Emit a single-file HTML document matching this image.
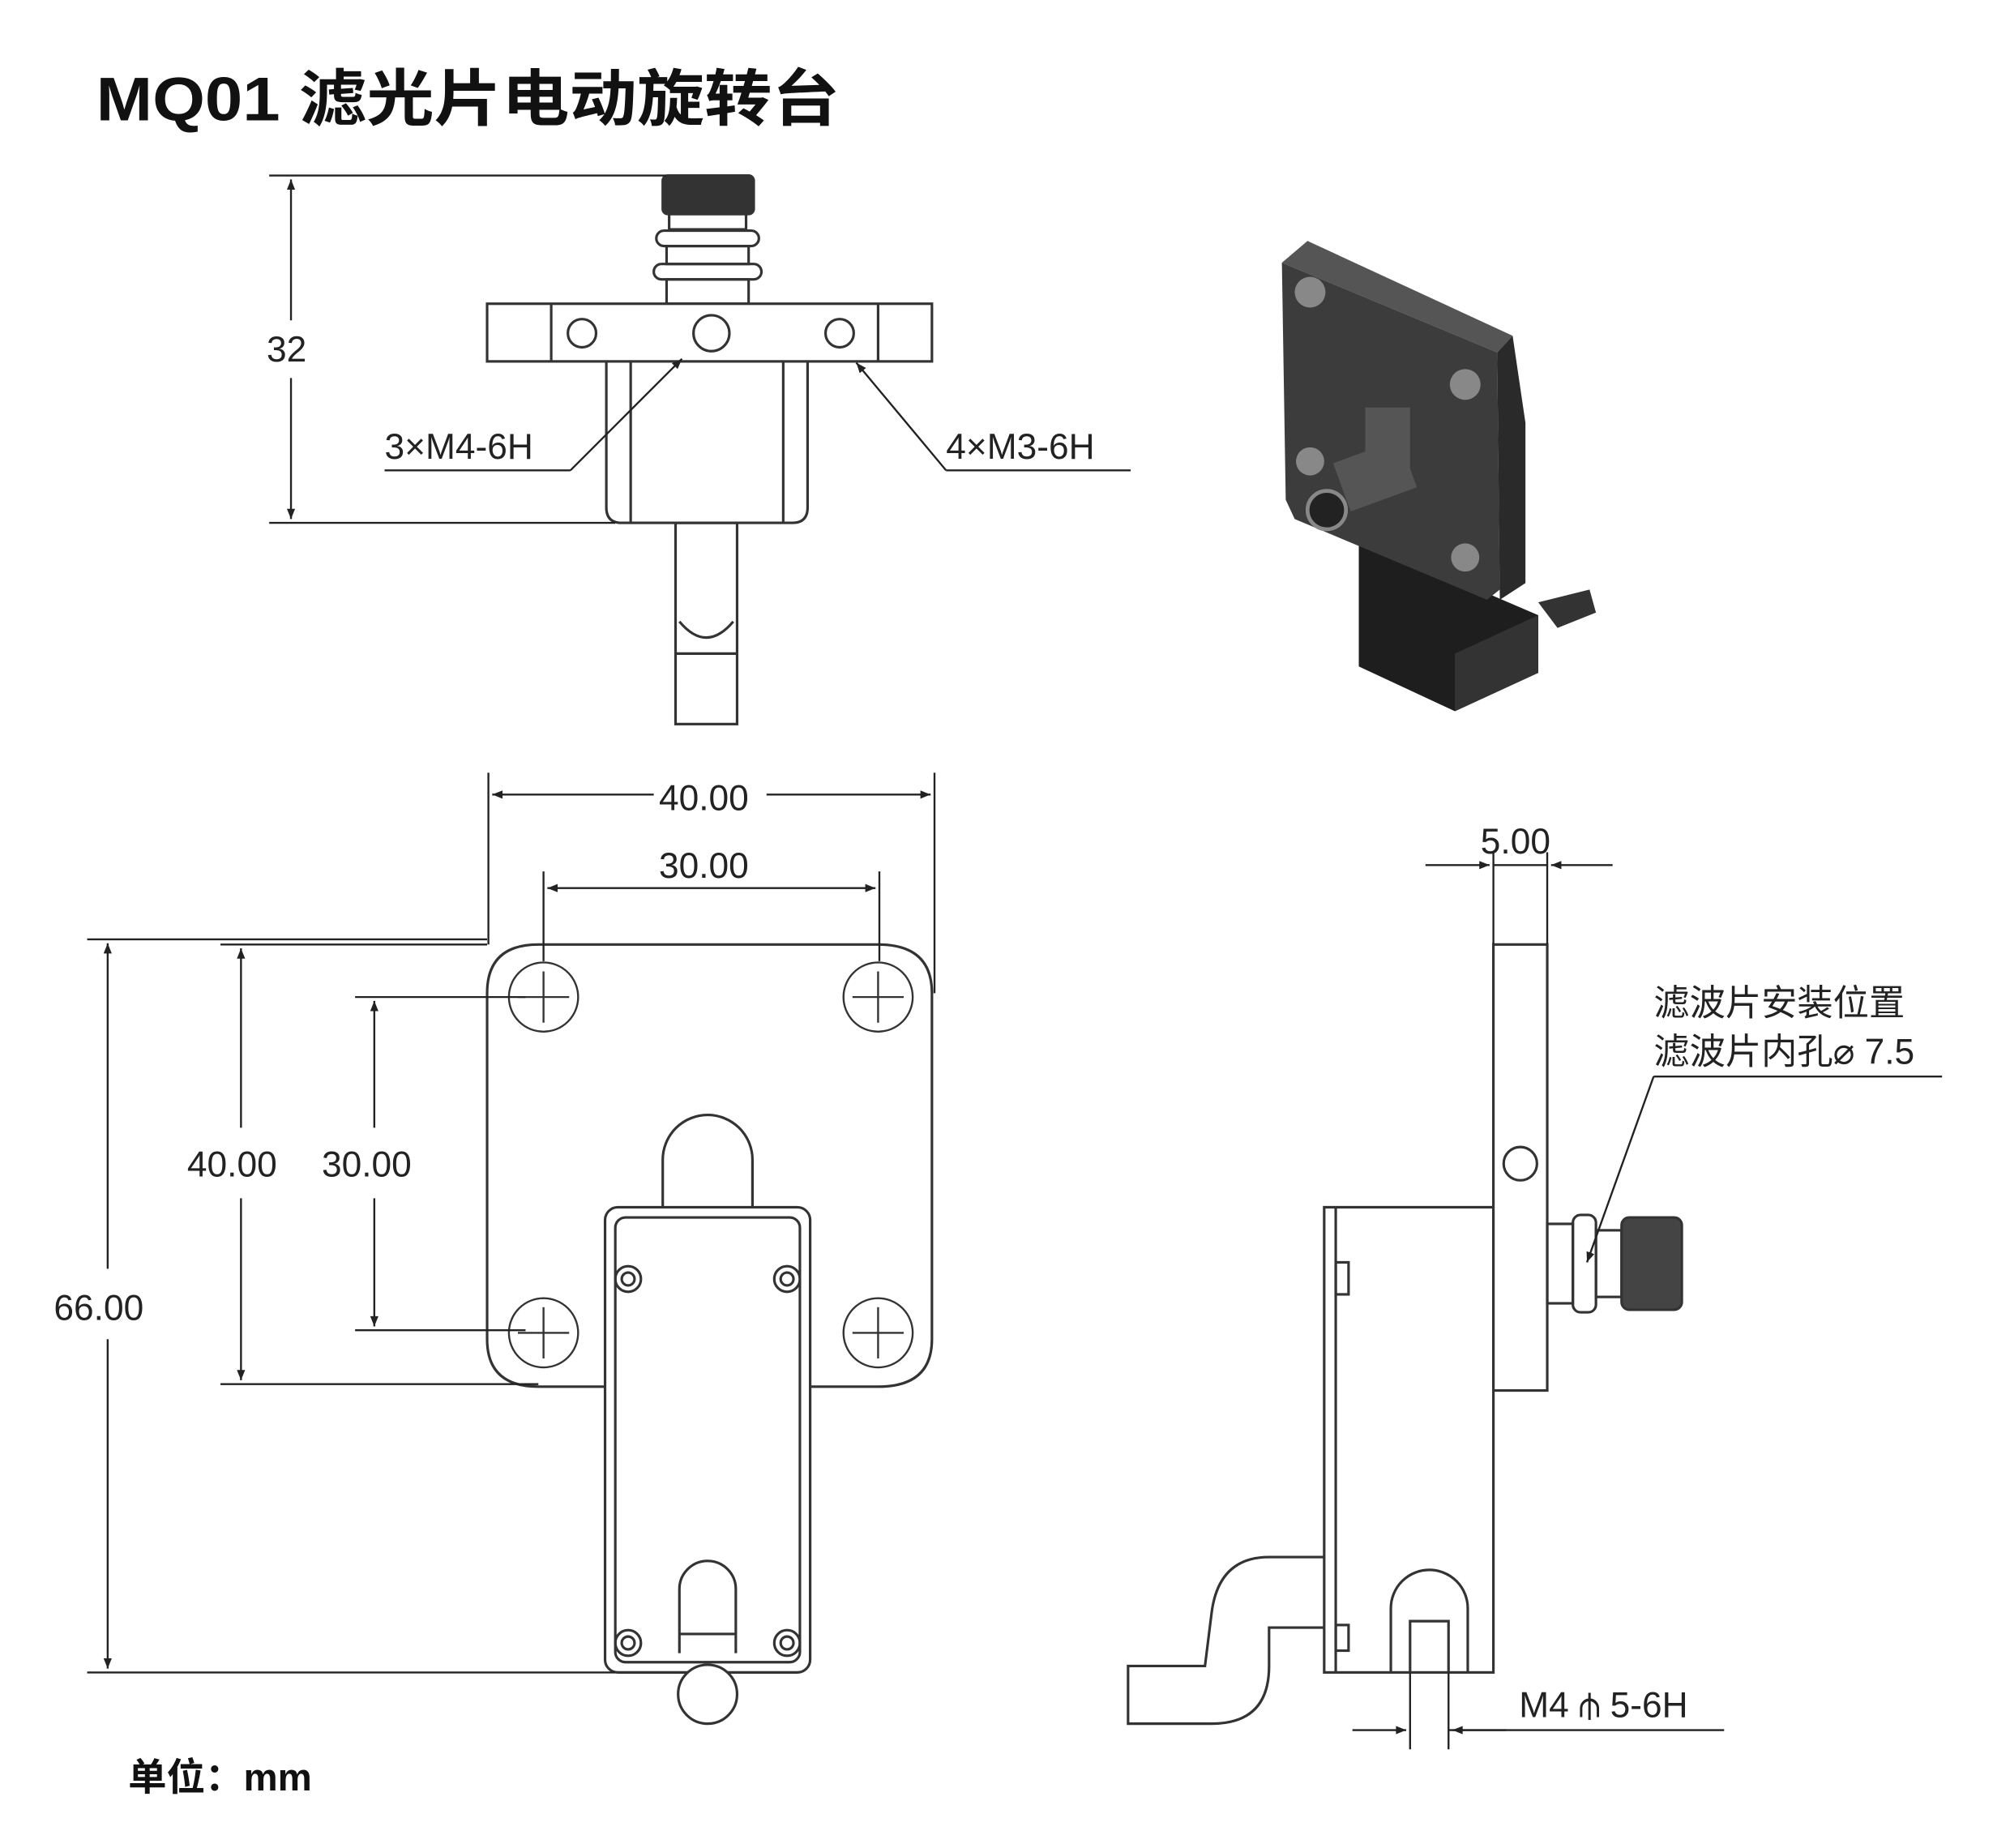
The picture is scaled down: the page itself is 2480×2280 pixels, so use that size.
<!DOCTYPE html>
<html><head><meta charset="utf-8"><style>
html,body{margin:0;padding:0;background:#fff}
svg{display:block}
text{font-family:"Liberation Sans","Noto Sans CJK SC",sans-serif;fill:#222}
</style></head><body>
<svg width="2480" height="2280" viewBox="0 0 1568 1442" preserveAspectRatio="none" xmlns="http://www.w3.org/2000/svg">
<defs>
<marker id="a" viewBox="0 0 10 10" refX="10" refY="5" markerWidth="14" markerHeight="8" orient="auto-start-reverse" markerUnits="userSpaceOnUse"><path d="M0,1 L10,5 L0,9 z" fill="#222"/></marker>
</defs>
<rect width="1568" height="1442" fill="#fff"/>
<text x="75" y="94" font-size="48" font-weight="bold" textLength="580" lengthAdjust="spacingAndGlyphs" style="fill:#111">MQ01 滤光片电动旋转台</text>

<g stroke="#333" stroke-width="2" fill="none">
<rect x="517" y="137" width="71" height="30" rx="4" fill="#333"/>
<rect x="522" y="167" width="60" height="12"/>
<rect x="512" y="180" width="80" height="12" rx="6"/>
<rect x="520" y="192" width="64" height="14"/>
<rect x="510" y="206" width="84" height="12" rx="6"/>
<rect x="520" y="218" width="64" height="19"/>
<rect x="380" y="237" width="347" height="45" fill="#fff"/>
<line x1="430" y1="237" x2="430" y2="282"/><line x1="685" y1="237" x2="685" y2="282"/>
<circle cx="454" cy="260" r="11"/><circle cx="555" cy="260" r="14"/><circle cx="655" cy="260" r="11"/>
<path d="M473,282 V396 Q473,408 485,408 H618 Q630,408 630,396 V282"/>
<line x1="492" y1="282" x2="492" y2="408"/><line x1="611" y1="282" x2="611" y2="408"/>
<rect x="527" y="408" width="48" height="157"/>
<path d="M530,485 Q551,510 572,485"/><line x1="527" y1="510" x2="575" y2="510"/>
</g>
<g stroke="#222" stroke-width="1.5" fill="none">
<line x1="210" y1="137" x2="520" y2="137"/><line x1="210" y1="408" x2="480" y2="408"/>
<line x1="227" y1="140" x2="227" y2="250" marker-start="url(#a)"/>
<line x1="227" y1="295" x2="227" y2="405" marker-end="url(#a)"/>
<line x1="300" y1="367" x2="445" y2="367"/><line x1="445" y1="367" x2="532" y2="280" marker-end="url(#a)"/>
<line x1="738" y1="367" x2="882" y2="367"/><line x1="738" y1="367" x2="668" y2="283" marker-end="url(#a)"/>
</g>
<text x="208" y="282" font-size="28">32</text>
<text x="300" y="358" font-size="28">3×M4-6H</text>
<text x="738" y="358" font-size="28">4×M3-6H</text>

<!-- 3D render -->
<polygon points="1060,420 1165,465 1200,480 1200,525 1135,555 1060,520" fill="#1e1e1e"/>
<polygon points="1135,510 1200,480 1200,525 1135,555" fill="#333"/>
<polygon points="1000,205 1020,188 1180,262 1168,275" fill="#555"/>
<polygon points="1168,275 1180,262 1190,330 1190,455 1170,468" fill="#2a2a2a"/>
<polygon points="1000,205 1168,275 1170,460 1160,468 1010,405 1003,390" fill="#3c3c3c"/>
<g fill="#888"><circle cx="1022" cy="228" r="12"/><circle cx="1143" cy="300" r="12"/><circle cx="1022" cy="360" r="11"/><circle cx="1143" cy="435" r="11"/></g>
<rect x="1065" y="318" width="35" height="55" fill="#555"/>
<rect x="1045" y="350" width="55" height="40" fill="#555" transform="rotate(-20 1075 370)"/>
<circle cx="1035" cy="398" r="15" fill="#222" stroke="#888" stroke-width="3"/>
<path d="M1200,470 L1240,460 L1245,478 L1215,490" fill="#333"/>

<!-- front view -->
<g stroke="#333" stroke-width="2" fill="none">
<path d="M472,1082 H420 Q380,1082 380,1045 V775 Q380,737 420,737 H685 Q727,737 727,775 V1045 Q727,1082 685,1082 H632"/>
<g stroke-width="1.5">
<circle cx="424" cy="778" r="27"/><line x1="424" y1="758" x2="424" y2="798"/><line x1="404" y1="778" x2="444" y2="778"/>
<circle cx="685" cy="778" r="27"/><line x1="685" y1="758" x2="685" y2="798"/><line x1="665" y1="778" x2="705" y2="778"/>
<circle cx="424" cy="1040" r="27"/><line x1="424" y1="1020" x2="424" y2="1060"/><line x1="404" y1="1040" x2="444" y2="1040"/>
<circle cx="685" cy="1040" r="27"/><line x1="685" y1="1020" x2="685" y2="1060"/><line x1="665" y1="1040" x2="705" y2="1040"/>
</g>
<path d="M517,942 V905 A35,35 0 0 1 587,905 V942"/>
<rect x="472" y="942" width="160" height="363" rx="10" fill="#fff"/>
<rect x="480" y="950" width="144" height="347" rx="8"/>
<circle cx="490" cy="998" r="10"/><circle cx="490" cy="998" r="5"/>
<circle cx="614" cy="998" r="10"/><circle cx="614" cy="998" r="5"/>
<circle cx="490" cy="1282" r="10"/><circle cx="490" cy="1282" r="5"/>
<circle cx="614" cy="1282" r="10"/><circle cx="614" cy="1282" r="5"/>
<path d="M530,1290 V1240 A22,22 0 0 1 574,1240 V1290"/>
<circle cx="552" cy="1322" r="23" fill="#fff"/>
<line x1="530" y1="1275" x2="574" y2="1275"/>
</g>
<g stroke="#222" stroke-width="1.5" fill="none">
<line x1="381" y1="603" x2="381" y2="737"/><line x1="729" y1="603" x2="729" y2="775"/>
<line x1="384" y1="620" x2="510" y2="620" marker-start="url(#a)"/><line x1="598" y1="620" x2="726" y2="620" marker-end="url(#a)"/>
<line x1="424" y1="680" x2="424" y2="750"/><line x1="686" y1="680" x2="686" y2="750"/>
<line x1="427" y1="693" x2="683" y2="693" marker-start="url(#a)" marker-end="url(#a)"/>
<line x1="68" y1="733" x2="380" y2="733"/><line x1="68" y1="1305" x2="480" y2="1305"/>
<line x1="84" y1="736" x2="84" y2="990" marker-start="url(#a)"/><line x1="84" y1="1045" x2="84" y2="1302" marker-end="url(#a)"/>
<line x1="172" y1="737" x2="380" y2="737"/><line x1="172" y1="1080" x2="420" y2="1080"/>
<line x1="188" y1="740" x2="188" y2="880" marker-start="url(#a)"/><line x1="188" y1="935" x2="188" y2="1077" marker-end="url(#a)"/>
<line x1="277" y1="778" x2="410" y2="778"/><line x1="277" y1="1038" x2="410" y2="1038"/>
<line x1="292" y1="781" x2="292" y2="880" marker-start="url(#a)"/><line x1="292" y1="935" x2="292" y2="1035" marker-end="url(#a)"/>
</g>
<text x="514" y="632" font-size="28">40.00</text>
<text x="514" y="685" font-size="28">30.00</text>
<text x="42" y="1030" font-size="28">66.00</text>
<text x="146" y="918" font-size="28">40.00</text>
<text x="251" y="918" font-size="28">30.00</text>

<!-- side view -->
<g stroke="#333" stroke-width="2" fill="none">
<rect x="1033" y="942" width="132" height="363" fill="#fff"/>
<line x1="1042" y1="942" x2="1042" y2="1305"/>
<rect x="1042" y="985" width="10" height="25"/><rect x="1042" y="1268" width="10" height="20"/>
<path d="M1085,1305 V1255 A30,30 0 0 1 1145,1255 V1305"/>
<path d="M1100,1305 V1265 H1130 V1305"/>
<rect x="1165" y="737" width="42" height="348" fill="#fff"/>
<circle cx="1186" cy="908" r="13"/>
<rect x="1207" y="955" width="20" height="62"/><rect x="1227" y="948" width="18" height="76" rx="6"/>
<rect x="1245" y="960" width="20" height="52"/>
<rect x="1265" y="950" width="47" height="72" rx="6" fill="#444"/>
<path d="M1033,1215 H990 Q950,1215 945,1260 L940,1300 H880 V1345 H945 Q990,1345 990,1300 V1270 H1033"/>
</g>
<g stroke="#222" stroke-width="1.5" fill="none">
<line x1="1165" y1="665" x2="1165" y2="737"/><line x1="1207" y1="665" x2="1207" y2="737"/>
<line x1="1112" y1="675" x2="1162" y2="675" marker-end="url(#a)"/>
<line x1="1258" y1="675" x2="1210" y2="675" marker-end="url(#a)"/>
<line x1="1165" y1="675" x2="1207" y2="675"/>
<line x1="1290" y1="840" x2="1515" y2="840"/><line x1="1290" y1="840" x2="1238" y2="985" marker-end="url(#a)"/>
<line x1="1100" y1="1305" x2="1100" y2="1365"/><line x1="1130" y1="1305" x2="1130" y2="1365"/>
<line x1="1055" y1="1350" x2="1097" y2="1350" marker-end="url(#a)"/>
<line x1="1175" y1="1350" x2="1133" y2="1350" marker-end="url(#a)"/>
<line x1="1130" y1="1350" x2="1345" y2="1350"/>
</g>
<text x="1155" y="666" font-size="28">5.00</text>
<text x="1290" y="792" font-size="28">滤波片安装位置</text>
<text x="1290" y="830" font-size="28">滤波片内孔⌀ 7.5</text>
<text x="1185" y="1340" font-size="28">M4 ⫛ 5-6H</text>

<text x="100" y="1397" font-size="30" font-weight="bold" style="fill:#111">单位：mm</text>
</svg>
</body></html>
